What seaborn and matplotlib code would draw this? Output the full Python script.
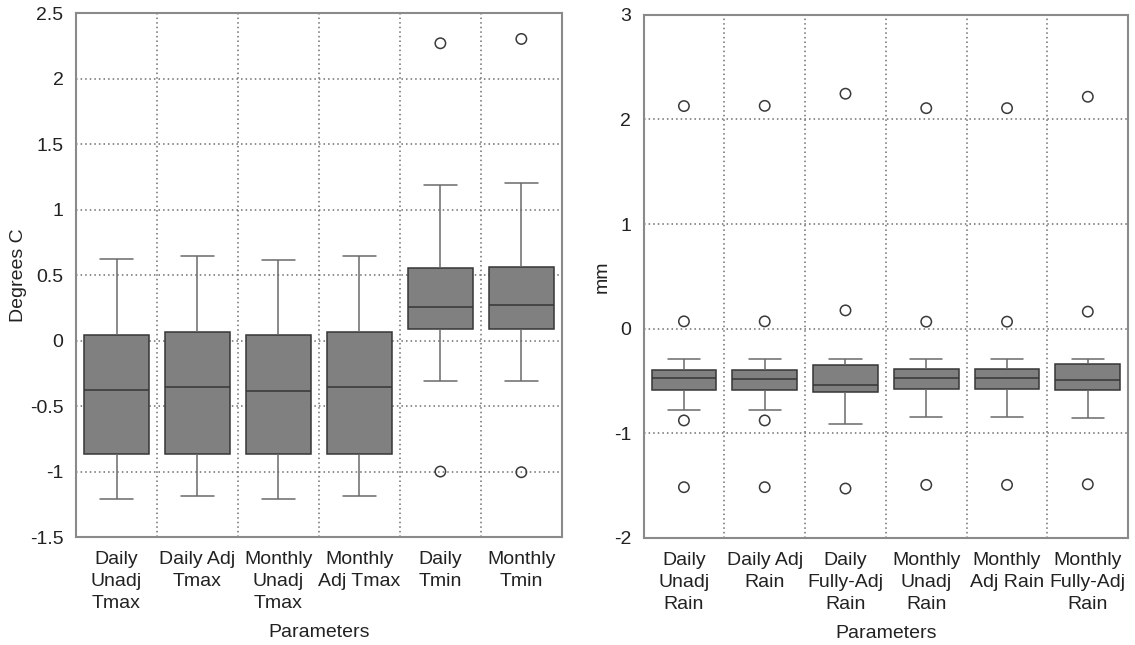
import numpy as np
import pandas as pd
import matplotlib
matplotlib.use("Agg")
import matplotlib.pyplot as plt
import seaborn as sns

# temperature panel (Degrees C)
temp_labels = ["Daily\nUnadj\nTmax", "Daily Adj\nTmax", "Monthly\nUnadj\nTmax",
               "Monthly\nAdj Tmax", "Daily\nTmin", "Monthly\nTmin"]
temp_lo = [-1.21, -1.185, -1.208, -1.183, -0.307, -0.307]
temp_q1 = [-0.863, -0.863, -0.863, -0.863, 0.091, 0.091]
temp_med = [-0.38, -0.358, -0.383, -0.355, 0.256, 0.274]
temp_q3 = [0.04, 0.066, 0.043, 0.066, 0.551, 0.559]
temp_hi = [0.622, 0.648, 0.612, 0.645, 1.192, 1.205]
temp_fliers = [[], [], [], [], [2.271, -1.0], [2.304, -1.005]]

# rain panel (mm)
rain_labels = ["Daily\nUnadj\nRain", "Daily Adj\nRain", "Daily\nFully-Adj\nRain",
               "Monthly\nUnadj\nRain", "Monthly\nAdj Rain", "Monthly\nFully-Adj\nRain"]
rain_lo = [-0.775, -0.775, -0.909, -0.842, -0.842, -0.858]
rain_q1 = [-0.584, -0.584, -0.609, -0.574, -0.574, -0.584]
rain_med = [-0.475, -0.478, -0.542, -0.469, -0.469, -0.488]
rain_q3 = [-0.396, -0.396, -0.348, -0.389, -0.389, -0.341]
rain_hi = [-0.29, -0.29, -0.29, -0.29, -0.29, -0.287]
rain_fliers = [[2.128, 0.07, -0.877, -1.515], [2.13, 0.07, -0.877, -1.515],
               [2.246, 0.175, -1.528], [2.108, 0.067, -1.493],
               [2.108, 0.067, -1.493], [2.217, 0.163, -1.487]]

sns.set_theme(style="white")
plt.rcParams["font.family"] = ["Liberation Sans", "DejaVu Sans"]
plt.rcParams["font.size"] = 14

TXT = "#222222"
SPINE = "#8a8a8a"
GRID = "#6e6e6e"
FS = 14


def panel(ax, labels, lo, q1, med, q3, hi, fliers, ylim, yticks, ylabel):
    # five points per box -> quartiles land exactly, whiskers at min/max
    box_df = pd.DataFrame({
        "param": np.repeat(labels, 5),
        "value": np.column_stack([lo, q1, med, q3, hi]).ravel(),
    })
    sns.boxplot(data=box_df, x="param", y="value", order=labels, ax=ax,
                whis=(0, 100), width=0.8, color="#808080", saturation=1,
                linecolor="#363636", linewidth=1.1, showfliers=False,
                whiskerprops=dict(color="#6a6a6a"), capprops=dict(color="#6a6a6a"))
    fl_df = pd.DataFrame({
        "param": [l for l, f in zip(labels, fliers) for _ in f],
        "value": [v for f in fliers for v in f],
    })
    sns.stripplot(data=fl_df, x="param", y="value", order=labels, ax=ax,
                  jitter=False, marker="o", size=7.5, facecolors="none",
                  edgecolor="#3a3a3a", linewidth=1.1, zorder=5)

    ax.set_xlim(-0.5, len(labels) - 0.5)
    ax.set_ylim(*ylim)
    ax.set_yticks(yticks)
    ax.set_yticklabels([f"{t:g}" for t in yticks])
    ax.set_xticks(np.arange(0.5, len(labels) - 0.5, 1), minor=True)
    ax.set_axisbelow(True)
    ax.grid(which="minor", axis="x", ls=(0, (1, 2)), color=GRID, lw=1.1)
    ax.grid(which="major", axis="y", ls=(0, (1, 2)), color=GRID, lw=1.1)
    ax.tick_params(axis="x", which="major", length=0, pad=10, colors=TXT, labelsize=FS)
    ax.tick_params(axis="x", which="minor", direction="in", length=5, color=SPINE)
    ax.tick_params(axis="y", direction="in", length=5, color=SPINE, pad=9,
                   labelcolor=TXT, labelsize=FS)
    for lbl in ax.get_xticklabels():
        lbl.set_linespacing(1.38)
    ax.set_xlabel("Parameters", color=TXT, fontsize=FS, labelpad=9)
    ax.set_ylabel(ylabel, color=TXT, fontsize=FS, labelpad=2)
    for s in ax.spines.values():
        s.set_visible(True)
        s.set_color(SPINE)
        s.set_linewidth(1.5)


fig = plt.figure(figsize=(11.35, 6.45), dpi=100)
ax1 = fig.add_axes([0.067, 0.1674, 0.428, 0.812])
ax2 = fig.add_axes([0.567, 0.166, 0.427, 0.811])

panel(ax1, temp_labels, temp_lo, temp_q1, temp_med, temp_q3, temp_hi, temp_fliers,
      (-1.5, 2.5), [-1.5, -1, -0.5, 0, 0.5, 1, 1.5, 2, 2.5], "Degrees C")
panel(ax2, rain_labels, rain_lo, rain_q1, rain_med, rain_q3, rain_hi, rain_fliers,
      (-2, 3), [-2, -1, 0, 1, 2, 3], "mm")

fig.savefig("out.png", dpi=100)
